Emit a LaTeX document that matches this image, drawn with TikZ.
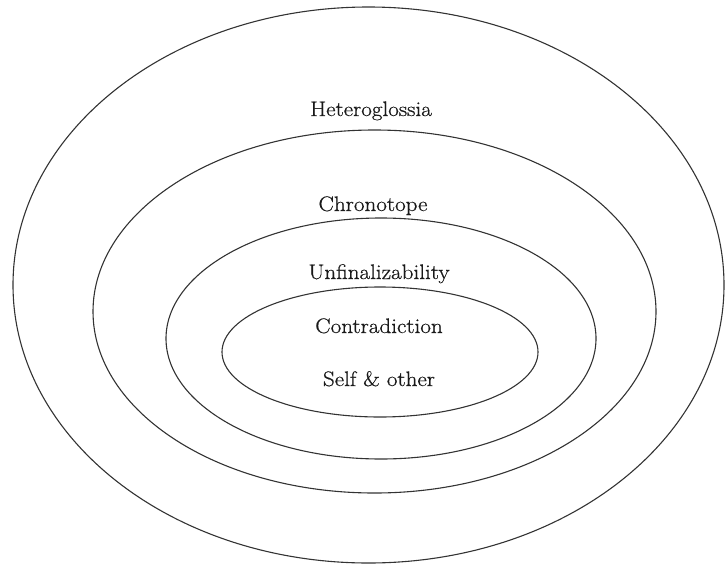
\documentclass[tikz,border=0pt]{standalone}
\usepackage{fontspec}
\setmainfont{Latin Modern Roman}[FakeStretch=1.1, FakeBold=0.6]
\begin{document}
\begin{tikzpicture}[x=1pt,y=-1pt,
  ring/.style={draw=black!80, line width=1.1pt},
  label/.style={font=\fontsize{21}{24}\selectfont, text=black!90, inner sep=0pt, anchor=base}]
  \useasboundingbox (0,0) rectangle (725,565);
  % nested rings, outermost first
  \draw[ring] (368.5,285) ellipse [x radius=355.5, y radius=278];
  \draw[ring] (374.5,311.5) ellipse [x radius=281.5, y radius=181.5];
  \draw[ring] (381,338.5) ellipse [x radius=215, y radius=120.5];
  \draw[ring] (380,352) ellipse [x radius=158, y radius=65];
  % labels
  \node[label] (hetero) at (371,116) {Heteroglossia};
  \node[label] (chrono) at (373,211) {Chronotope};
  \node[label] (unfin) at (379,279) {Unfinalizability};
  \node[label] (contra) at (379,333) {Contradiction};
  \node[label] (self) at (379,386) {Self \& other};
\end{tikzpicture}
\end{document}
